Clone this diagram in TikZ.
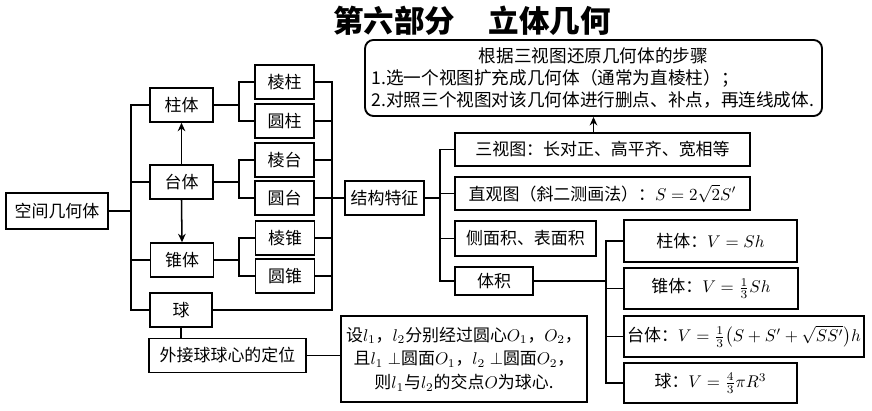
\documentclass[tikz,border=0pt]{standalone}
\usepackage[no-math]{fontspec}
\setmainfont{Noto Sans CJK SC}
\usepackage{amsmath}
\usetikzlibrary{arrows.meta}

\tikzset{
  box/.style={draw, line width=0.9pt, inner sep=1pt, align=center,
              font=\fontsize{10}{14}\selectfont},
  wh/.style 2 args={minimum width=#1*0.59pt, minimum height=#2*0.59pt},
  wire/.style={line width=0.9pt},
  arr/.style={line width=0.9pt, -{Stealth[length=5pt,width=4.5pt]}}
}

\begin{document}
\begin{tikzpicture}[x=0.59pt, y=-0.59pt]
\useasboundingbox (0,0) rectangle (872,411);

% title
\node (title) at (472,21) {\fontsize{18}{20}\selectfont\bfseries 第六部分\hspace{1.1em}立体几何};

% steps box
\node[box, wh={457}{76}, rounded corners=5pt, line width=1.1pt, text width=262pt, align=left,
      font=\fontsize{10.4}{13}\selectfont] (steps) at (593.5,78)
  {\makebox[\linewidth][c]{根据三视图还原几何体的步骤}\\
   1.选一个视图扩充成几何体（通常为直棱柱）；\\
   2.对照三个视图对该几何体进行删点、补点，再连线成体.};

% left part
\node[box, wh={102}{36}] (whole) at (57,211) {空间几何体};
\node[box, wh={63}{34}] (zhu) at (181.5,105) {柱体};
\node[box, wh={63}{34}] (tai) at (181.5,182) {台体};
\node[box, wh={63}{34}] (zhui) at (182,260) {锥体};
\node[box, wh={62}{34}] (qiu) at (181,310) {球};
\node[box, wh={157}{34}] (waijie) at (227.5,355.5) {外接球球心的定位};

\node[box, wh={59}{34}] (lengzhu) at (284.5,82) {棱柱};
\node[box, wh={59}{34}] (yuanzhu) at (284.5,121) {圆柱};
\node[box, wh={59}{34}] (lengtai) at (284.5,160) {棱台};
\node[box, wh={59}{34}] (yuantai) at (284.5,198) {圆台};
\node[box, wh={59}{34}] (lengzhui) at (285,238) {棱锥};
\node[box, wh={59}{34}] (yuanzhui) at (285,276) {圆锥};

% middle part
\node[box, wh={79}{34}] (jiegou) at (384.5,198) {结构特征};
\node[box, wh={295}{33}] (santu) at (602.5,149.5) {三视图：长对正、高平齐、宽相等};
\node[box, wh={295}{33}] (zhiguan) at (602.5,193.5) {直观图（斜二测画法）：$S=2\sqrt{2}S'$};
\node[box, wh={141}{35}] (cemian) at (525.5,238.5) {侧面积、表面积};
\node[box, wh={78}{28}] (tiji) at (494,281) {体积};
\node[box, wh={246}{86}] (she) at (464,359)
  {设$l_1$，$l_2$分别经过圆心$O_1$，$O_2$，\\
   且$l_1\perp$圆面$O_1$，$l_2\perp$圆面$O_2$，\\
   则$l_1$与$l_2$的交点$O$为球心.};

% volumes
\node[box, wh={173}{42}] (vzhu) at (710.5,241) {柱体：$V=Sh$};
\node[box, wh={174}{41}] (vzhui) at (711,288.5) {锥体：$V=\frac{1}{3}Sh$};
\node[box, wh={240}{41}] (vtai) at (744,336.5) {台体：$V=\frac{1}{3}\bigl(S+S'+\sqrt{SS'}\bigr)h$};
\node[box, wh={173}{40}] (vqiu) at (710.5,383) {球：$V=\frac{4}{3}\pi R^3$};

% junctions
\coordinate (b1) at (131,211);
\coordinate (b2) at (239,105);
\coordinate (b3) at (332,198);
\coordinate (b4) at (440,198);
\coordinate (b5) at (606,281);

% connectors
\draw[wire] (whole.east) -- (b1);
\draw[wire] (zhu.west) -| (b1 |- qiu) -- (qiu.west);
\draw[wire] (tai.west) -- (tai -| b1);
\draw[wire] (zhui.west) -- (zhui -| b1);

\draw[wire] (zhu.east) -- (zhu -| b2);
\draw[wire] (lengzhu.west) -| (b2 |- yuanzhu) -- (yuanzhu.west);
\draw[wire] (tai.east) -- (tai -| b2);
\draw[wire] (lengtai.west) -| (b2 |- yuantai) -- (yuantai.west);
\draw[wire] (zhui.east) -- (zhui -| b2);
\draw[wire] (lengzhui.west) -| (b2 |- yuanzhui) -- (yuanzhui.west);

\draw[wire] (lengzhu.east) -| (b3 |- qiu) -- (qiu.east);
\draw[wire] (yuanzhu.east) -- (yuanzhu -| b3);
\draw[wire] (lengtai.east) -- (lengtai -| b3);
\draw[wire] (lengzhui.east) -- (lengzhui -| b3);
\draw[wire] (yuanzhui.east) -- (yuanzhui -| b3);
\draw[wire] (yuantai.east) -- (jiegou.west);

\draw[arr] (tai.north) -- (zhu.south);
\draw[arr] (tai.south) -- (zhui.north);

\draw[wire] (qiu.south) -- (qiu.south |- waijie.north);
\draw[wire] (waijie.east) -- (waijie.east -| she.west);

\draw[wire] (jiegou.east) -- (b4);
\draw[wire] (santu.west) -| (b4 |- tiji) -- (tiji.west);
\draw[wire] (zhiguan.west) -- (zhiguan -| b4);
\draw[wire] (cemian.west) -- (cemian -| b4);
\draw[arr] (steps.south |- santu.north) -- (steps.south);

\draw[wire] (tiji.east) -- (b5);
\draw[wire] (vzhu.west) -| (b5 |- vqiu) -- (vqiu.west);
\draw[wire] (vzhui.west) -- (vzhui -| b5);
\draw[wire] (vtai.west) -- (vtai -| b5);
\end{tikzpicture}
\end{document}
